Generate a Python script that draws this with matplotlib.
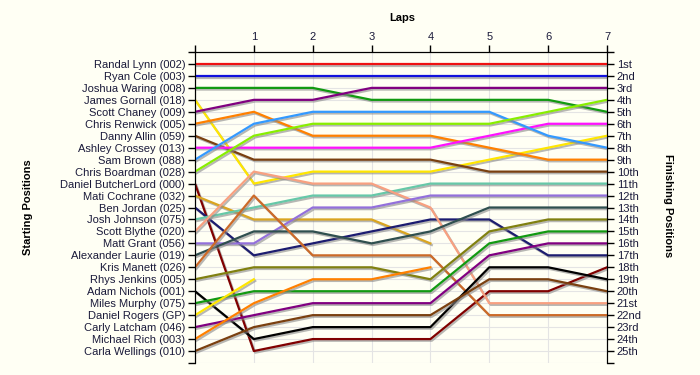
import numpy as np
import matplotlib
matplotlib.use("Agg")
import matplotlib.pyplot as plt
import matplotlib.patheffects as pe

nan = np.nan

drivers = ["Randal Lynn (002)", "Ryan Cole (003)", "Joshua Waring (008)", "James Gornall (018)",
           "Scott Chaney (009)", "Chris Renwick (005)", "Danny Allin (059)", "Ashley Crossey (013)",
           "Sam Brown (088)", "Chris Boardman (028)", "Daniel ButcherLord (000)", "Mati Cochrane (032)",
           "Ben Jordan (025)", "Josh Johnson (075)", "Scott Blythe (020)", "Matt Grant (056)",
           "Alexander Laurie (019)", "Kris Manett (026)", "Rhys Jenkins (005)", "Adam Nichols (001)",
           "Miles Murphy (075)", "Daniel Rogers (GP)", "Carly Latcham (046)", "Michael Rich (003)",
           "Carla Wellings (010)"]

laps = [0, 1, 2, 3, 4, 5, 6, 7]

# position of each driver after each lap (nan = retired)
positions = [
    [1, 1, 1, 1, 1, 1, 1, 1],
    [2, 2, 2, 2, 2, 2, 2, 2],
    [3, 3, 3, 4, 4, 4, 4, 5],
    [4, 11, 10, 10, 10, 9, 8, 7],
    [5, 4, 4, 3, 3, 3, 3, 3],
    [6, 5, 7, 7, 7, 8, 9, 9],
    [7, 9, 9, 9, 9, 10, 10, 10],
    [8, 8, 8, 8, 8, 7, 6, 6],
    [9, 6, 5, 5, 5, 5, 7, 8],
    [10, 7, 6, 6, 6, 6, 5, 4],
    [11, 25, 24, 24, 24, 20, 20, 18],
    [12, 14, 14, 14, 16, nan, nan, nan],
    [13, 17, 16, 15, 14, 14, 17, 17],
    [14, 13, 12, 12, 11, 11, 11, 11],
    [15, 10, 11, 11, 13, 21, 21, 21],
    [16, 16, 13, 13, 12, 12, 12, 12],
    [17, 15, 15, 16, 15, 13, 13, 13],
    [18, 12, 17, 17, 17, 22, 22, 22],
    [19, 18, 18, 18, 19, 15, 14, 14],
    [20, 24, 23, 23, 23, 18, 18, 19],
    [21, 20, 20, 20, 20, 16, 15, 15],
    [22, 19, nan, nan, nan, nan, nan, nan],
    [23, 22, 21, 21, 21, 17, 16, 16],
    [24, 21, 19, 19, 18, nan, nan, nan],
    [25, 23, 22, 22, 22, 19, 19, 20],
]

finish_labels = ["1st", "2nd", "3rd", "4th", "5th", "6th", "7th", "8th", "9th", "10th",
                 "11th", "12th", "13th", "14th", "15th", "16th", "17th", "18th", "19th", "20th",
                 "21st", "22nd", "23rd", "24th", "25th"]

colors = ["#ee1111", "#1111dd", "#119911", "#ffe600", "#800080", "#ff8000", "#7a4010", "#ff11ff",
          "#3399ff", "#88ee00", "#800000", "#daa520", "#1c1c70", "#66c8a8", "#f8a080", "#9370db",
          "#2f4f4f", "#cc6a28", "#808010", "#000000", "#119911", "#ffe600", "#800080", "#ff8000",
          "#7a4010"]

fonts = ["Liberation Sans", "DejaVu Sans"]
plt.rcParams["font.family"] = fonts

bg = "#fffff4"
fig = plt.figure(figsize=(7, 3.75), dpi=100, facecolor=bg)
ax = fig.add_axes([195 / 700, 1 - 363 / 375, 412 / 700, 311 / 375])
ax.set_facecolor(bg)

shadow = [pe.SimpleLineShadow(offset=(1, -1.2), shadow_color="#888888", alpha=0.6), pe.Normal()]
for pos, c in zip(positions, colors):
    ax.plot(laps, pos, color=c, linewidth=1.6, path_effects=shadow, zorder=3)

ax.set_xlim(0, 7)
ax.set_ylim(26, 0)
ax.set_xticks(laps)
ax.set_xticklabels([""] + [str(l) for l in laps[1:]])
ax.set_yticks(range(0, 27))
ax.set_yticklabels([""] + drivers + [""])
ax.xaxis.tick_top()
ax.tick_params(axis="both", labelsize=8, length=5, width=1, pad=2, labelcolor="#1a1a3a")
ax.grid(True, color="#e4e4e4", linewidth=0.8, zorder=0)
ax.spines["bottom"].set_visible(False)

ax2 = ax.twinx()
ax2.set_ylim(26, 0)
ax2.set_yticks(range(0, 27))
ax2.set_yticklabels([""] + finish_labels + [""])
ax2.tick_params(axis="y", labelsize=8, length=5, width=1, pad=2, labelcolor="#1a1a3a")
ax2.spines["bottom"].set_visible(False)

fig.text(402 / 700, 1 - 18 / 375, "Laps", fontsize=8, fontweight="bold", ha="center", va="center")
fig.text(28 / 700, 1 - 207 / 375, "Starting Positions", fontsize=8, fontweight="bold",
         rotation=90, ha="center", va="center")
fig.text(668 / 700, 1 - 206 / 375, "Finishing Positions", fontsize=8, fontweight="bold",
         rotation=-90, ha="center", va="center")

fig.savefig("out.png", dpi=100, facecolor=bg)
